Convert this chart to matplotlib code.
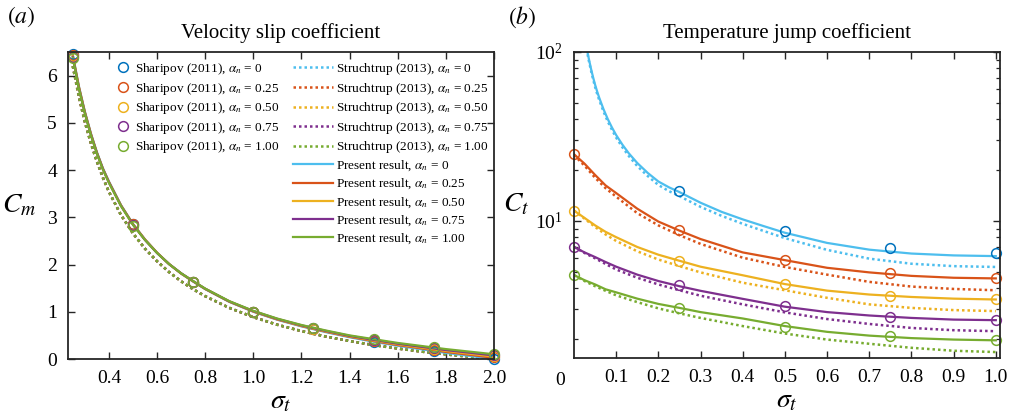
import numpy as np
import matplotlib
matplotlib.use("Agg")
import matplotlib.pyplot as plt
from matplotlib.lines import Line2D

plt.rcParams['font.family'] = ['Liberation Serif', 'DejaVu Serif']
plt.rcParams['mathtext.fontset'] = 'stix'

# ---------------- data: velocity slip coefficient (panel a) ----------------
alpha_labels = ['0', '0.25', '0.50', '0.75', '1.00']

sig_a_pts = [0.25, 0.5, 0.75, 1.0, 1.25, 1.5, 1.75, 2.0]
cm_shar_0 = [6.45, 2.86, 1.64, 1.00, 0.63, 0.37, 0.17, 0.01]
cm_shar_25 = [6.43, 2.85, 1.64, 1.00, 0.64, 0.39, 0.20, 0.04]
cm_shar_50 = [6.41, 2.84, 1.63, 1.00, 0.64, 0.40, 0.22, 0.06]
cm_shar_75 = [6.39, 2.83, 1.63, 1.00, 0.65, 0.41, 0.23, 0.08]
cm_shar_100 = [6.37, 2.82, 1.62, 1.00, 0.66, 0.42, 0.25, 0.10]

sig_a_line = [0.25, 0.275, 0.3, 0.325, 0.35, 0.375, 0.4, 0.45, 0.5, 0.55, 0.6, 0.65,
              0.7, 0.75, 0.8, 0.9, 1.0, 1.1, 1.2, 1.3, 1.4, 1.5, 1.6, 1.7, 1.8, 1.9, 2.0]
cm_str = [6.20, 5.56, 5.02, 4.57, 4.18, 3.84, 3.54, 3.05, 2.66, 2.335, 2.07, 1.84,
          1.645, 1.477, 1.33, 1.083, 0.886, 0.725, 0.591, 0.477, 0.38, 0.295, 0.222,
          0.156, 0.098, 0.047, 0.0]
cm_pre_0 = [6.44, 5.78, 5.24, 4.78, 4.38, 4.04, 3.76, 3.26, 2.86, 2.53, 2.25, 2.01,
            1.81, 1.64, 1.48, 1.21, 1.00, 0.83, 0.69, 0.57, 0.46, 0.365, 0.28,
            0.205, 0.13, 0.065, 0.0]
cm_pre_25 = [6.425, 5.77, 5.23, 4.77, 4.37, 4.03, 3.75, 3.255, 2.855, 2.53, 2.25, 2.01,
             1.81, 1.643, 1.483, 1.214, 1.005, 0.836, 0.698, 0.579, 0.47, 0.379, 0.295,
             0.223, 0.15, 0.088, 0.025]
cm_pre_50 = [6.41, 5.755, 5.22, 4.76, 4.365, 4.025, 3.745, 3.25, 2.85, 2.525, 2.25, 2.01,
             1.81, 1.645, 1.485, 1.218, 1.01, 0.843, 0.705, 0.588, 0.48, 0.393, 0.31,
             0.24, 0.17, 0.11, 0.05]
cm_pre_75 = [6.395, 5.74, 5.21, 4.75, 4.36, 4.02, 3.74, 3.245, 2.845, 2.52, 2.245, 2.01,
             1.815, 1.648, 1.488, 1.221, 1.015, 0.849, 0.713, 0.596, 0.49, 0.406, 0.325,
             0.258, 0.19, 0.133, 0.075]
cm_pre_100 = [6.38, 5.73, 5.20, 4.74, 4.35, 4.01, 3.73, 3.24, 2.84, 2.52, 2.245, 2.01,
              1.815, 1.65, 1.49, 1.225, 1.02, 0.855, 0.72, 0.605, 0.50, 0.42, 0.34,
              0.275, 0.21, 0.155, 0.10]

# ---------------- data: temperature jump coefficient (panel b) ----------------
sig_b_pts = [0.0, 0.25, 0.5, 0.75, 1.0]
ct_shar_0 = [np.nan, 15.1, 8.69, 6.92, 6.46]
ct_shar_25 = [24.8, 8.77, 5.87, 4.90, 4.59]
ct_shar_50 = [11.5, 5.82, 4.20, 3.58, 3.42]
ct_shar_75 = [7.01, 4.14, 3.12, 2.70, 2.58]
ct_shar_100 = [4.77, 3.05, 2.35, 2.07, 1.98]

sig_b_blue = [0.03, 0.032, 0.035, 0.04, 0.045, 0.05, 0.055, 0.06, 0.07, 0.08, 0.09,
              0.1, 0.115, 0.13, 0.15, 0.175, 0.2, 0.225, 0.25, 0.3, 0.35, 0.4, 0.45,
              0.5, 0.6, 0.7, 0.8, 0.9, 1.0]
ct_pre_0 = [107, 100, 91.5, 80.2, 71.2, 64.0, 58.2, 53.4, 45.8, 40.1, 35.7,
            32.2, 28.2, 25.1, 22.0, 19.2, 17.1, 15.8, 14.8, 12.8, 11.3, 10.2, 9.3,
            8.5, 7.4, 6.75, 6.4, 6.24, 6.18]
ct_str_0 = [104.3, 97.5, 89.2, 78.2, 69.4, 62.1, 56.4, 51.8, 44.4, 38.8, 34.6,
            31.1, 27.2, 24.2, 21.1, 18.4, 16.3, 15.0, 14.0, 12.1, 10.7, 9.6, 8.7,
            7.9, 6.73, 5.97, 5.57, 5.39, 5.33]

sig_b_line = [0.0, 0.025, 0.05, 0.075, 0.1, 0.15, 0.2, 0.25, 0.3, 0.4, 0.5, 0.6,
              0.7, 0.8, 0.9, 1.0]
ct_pre_25 = [24.8, 21.8, 18.7, 16.2, 14.6, 11.8, 9.9, 8.75, 7.8, 6.5, 5.85, 5.27,
             4.95, 4.72, 4.6, 4.56]
ct_str_25 = [24.5, 21.2, 18.0, 15.6, 13.9, 11.1, 9.4, 8.22, 7.3, 6.05, 5.33, 4.8,
             4.35, 4.08, 3.95, 3.88]
ct_pre_50 = [11.5, 10.4, 9.4, 8.6, 8.0, 7.0, 6.3, 5.8, 5.35, 4.76, 4.22, 3.86,
             3.66, 3.54, 3.46, 3.42]
ct_str_50 = [11.5, 10.3, 9.2, 8.3, 7.6, 6.6, 5.9, 5.39, 4.95, 4.3, 3.88, 3.5,
             3.2, 3.05, 2.96, 2.92]
ct_pre_75 = [7.0, 6.5, 6.1, 5.7, 5.35, 4.8, 4.4, 4.1, 3.85, 3.45, 3.1, 2.88,
             2.75, 2.66, 2.6, 2.58]
ct_str_75 = [7.0, 6.45, 6.0, 5.55, 5.15, 4.6, 4.2, 3.88, 3.6, 3.2, 2.87, 2.62,
             2.45, 2.32, 2.25, 2.22]
ct_pre_100 = [4.77, 4.45, 4.2, 3.93, 3.77, 3.46, 3.22, 3.05, 2.88, 2.64, 2.38, 2.2,
              2.09, 2.02, 1.98, 1.96]
ct_str_100 = [4.77, 4.4, 4.1, 3.85, 3.62, 3.3, 3.03, 2.83, 2.66, 2.38, 2.15, 1.98,
              1.87, 1.77, 1.7, 1.67]

# ---------------- style ----------------
shar_colors = ['#0072BD', '#D95319', '#EDB120', '#7E2F8E', '#77AC30']
line_colors = ['#4DBEEE', '#D95319', '#EDB120', '#7E2F8E', '#77AC30']
axcol = '#262626'
DOT = (0, (1, 1.2))
W, H = 1012, 419
fig = plt.figure(figsize=(W / 100, H / 100), dpi=100)


def box(l, t, r, b):
    return [l / W, 1 - b / H, (r - l) / W, (b - t) / H]


def style_axes(ax):
    for s in ax.spines.values():
        s.set_color(axcol)
        s.set_linewidth(1.3)
    ax.tick_params(which='both', direction='in', top=True, right=True,
                   colors=axcol, labelcolor='black', labelsize=14)
    ax.tick_params(which='major', length=5, width=1.0, pad=8)
    ax.tick_params(which='minor', length=3, width=0.9)


# ---------------- panel a ----------------
ax1 = fig.add_axes(box(68, 52, 494, 359))
shar_a = [cm_shar_0, cm_shar_25, cm_shar_50, cm_shar_75, cm_shar_100]
pre_a = [cm_pre_0, cm_pre_25, cm_pre_50, cm_pre_75, cm_pre_100]
for i in range(5):
    ax1.plot(sig_a_line, cm_str, ls=DOT, lw=1.8, color=line_colors[i])
for i in range(5):
    ax1.plot(sig_a_line, pre_a[i], ls='-', lw=1.6, color=line_colors[i])
for i in range(5):
    ax1.plot(sig_a_pts, shar_a[i], ls='none', marker='o', ms=7, mfc='none',
             mec=shar_colors[i], mew=1.1, clip_on=False)
ax1.set_xlim(0.23, 2.0)
ax1.set_ylim(0, 6.5)
ax1.set_xticks([0.4, 0.6, 0.8, 1.0, 1.2, 1.4, 1.6, 1.8, 2.0])
ax1.set_xticklabels(['0.4', '0.6', '0.8', '1.0', '1.2', '1.4', '1.6', '1.8', '2.0'])
ax1.set_yticks([0, 1, 2, 3, 4, 5, 6])
style_axes(ax1)
ax1.set_title('Velocity slip coefficient', fontsize=15, pad=10)
ax1.set_xlabel(r'$\sigma_t$', fontsize=20, labelpad=2)
ax1.set_ylabel(r'$C_m$', fontsize=20, rotation=0, labelpad=20, va='center')

# legends
LFS = 9.5
h1 = [Line2D([], [], ls='none', marker='o', ms=7, mfc='none', mec=shar_colors[i], mew=1.1)
      for i in range(5)]
l1 = [r'Sharipov (2011), $\alpha_n$ = ' + a for a in alpha_labels]
leg1 = ax1.legend(h1, l1, loc='upper left', bbox_to_anchor=(116.5 / W, 1 - 61 / H),
                  bbox_transform=fig.transFigure, frameon=False, fontsize=LFS,
                  handlelength=1.0, handletextpad=0.4, labelspacing=0.27,
                  borderpad=0, borderaxespad=0)
ax1.add_artist(leg1)
h2 = [Line2D([], [], ls=DOT, lw=1.8, color=c) for c in line_colors] + \
     [Line2D([], [], ls='-', lw=1.6, color=c) for c in line_colors]
l2 = [r'Struchtrup (2013), $\alpha_n$ = ' + a for a in alpha_labels] + \
     [r'Present result, $\alpha_n$ = ' + a for a in alpha_labels]
ax1.legend(h2, l2, loc='upper left', bbox_to_anchor=(293 / W, 1 - 61 / H),
           bbox_transform=fig.transFigure, frameon=False, fontsize=LFS,
           handlelength=3.0, handletextpad=0.23, labelspacing=0.27,
           borderpad=0, borderaxespad=0)

# ---------------- panel b ----------------
ax2 = fig.add_axes(box(574, 52, 1000, 358))
ax2.set_yscale('log')
shar_b = [ct_shar_0, ct_shar_25, ct_shar_50, ct_shar_75, ct_shar_100]
str_b = [ct_str_25, ct_str_50, ct_str_75, ct_str_100]
pre_b = [ct_pre_25, ct_pre_50, ct_pre_75, ct_pre_100]
ax2.plot(sig_b_blue, ct_str_0, ls=DOT, lw=1.8, color=line_colors[0])
for i in range(4):
    ax2.plot(sig_b_line, str_b[i], ls=DOT, lw=1.8, color=line_colors[i + 1])
ax2.plot(sig_b_blue, ct_pre_0, ls='-', lw=1.6, color=line_colors[0])
for i in range(4):
    ax2.plot(sig_b_line, pre_b[i], ls='-', lw=1.6, color=line_colors[i + 1])
for i in range(5):
    ax2.plot(sig_b_pts, shar_b[i], ls='none', marker='o', ms=7, mfc='none',
             mec=shar_colors[i], mew=1.1, clip_on=False)
ax2.set_xlim(0, 1.01)
ax2.set_ylim(1.54, 100)
ax2.set_xticks([0.1, 0.2, 0.3, 0.4, 0.5, 0.6, 0.7, 0.8, 0.9, 1.0])
ax2.set_xticklabels(['0.1', '0.2', '0.3', '0.4', '0.5', '0.6', '0.7', '0.8', '0.9', '1.0'])
ax2.yaxis.set_minor_formatter(matplotlib.ticker.NullFormatter())
style_axes(ax2)
ax2.set_title('Temperature jump coefficient', fontsize=15, pad=10)
ax2.set_xlabel(r'$\sigma_t$', fontsize=20, labelpad=2)
ax2.set_ylabel(r'$C_t$', fontsize=20, rotation=0, labelpad=14, va='center')
fig.text(560 / W, 1 - 380 / H, '0', fontsize=14, ha='center', va='center')

fig.text(7 / W, 1 - 17 / H, r'$(a)$', fontsize=17, ha='left', va='center')
fig.text(508 / W, 1 - 17 / H, r'$(b)$', fontsize=17, ha='left', va='center')

fig.savefig('out.png', dpi=100)
